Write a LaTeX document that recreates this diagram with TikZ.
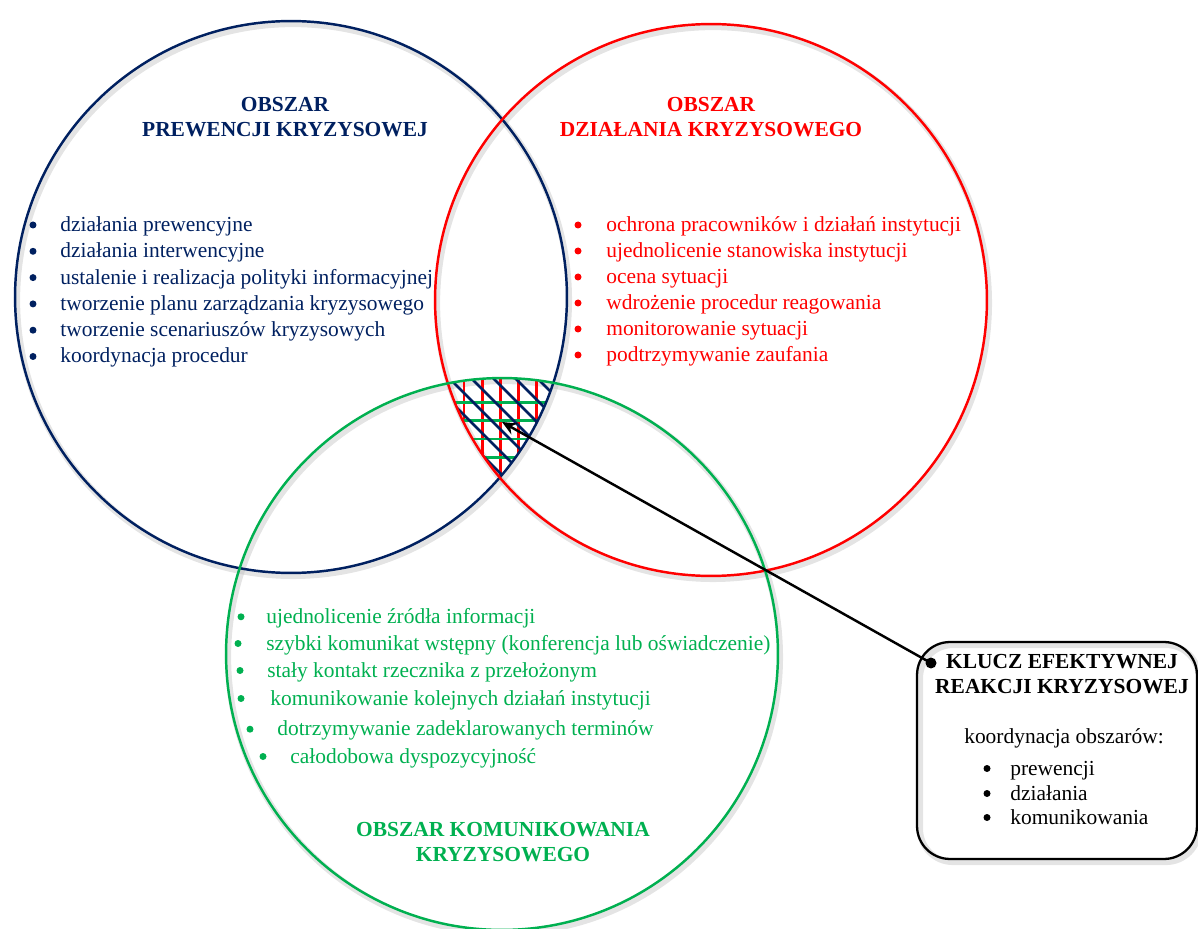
\documentclass[tikz,border=0pt]{standalone}
\usepackage{fontspec}
\setmainfont{Liberation Serif}
\usetikzlibrary{arrows.meta}
\definecolor{cblue}{HTML}{002060}
\definecolor{cred}{HTML}{FF0000}
\definecolor{cgreen}{HTML}{00B050}
\begin{document}
\begin{tikzpicture}[x=0.02cm, y=-0.02cm,
  ring/.style={circle, draw, line width=1.4pt, minimum size=11.04cm, inner sep=0pt},
  ringshadow/.style={draw=black!30, line width=3.5pt, opacity=0.35},
  txt/.style={inner sep=0pt, font=\fontsize{12.2pt}{15pt}\selectfont},
  head/.style={txt, font=\fontsize{12.2pt}{15pt}\selectfont\bfseries, anchor=base},
  item/.style={txt, anchor=base west},
  bul/.style={circle, fill, minimum size=0.14cm, inner sep=0pt},
  hatchline/.style={line width=1.5pt},
  keybox/.style={draw, line width=1.3pt, rounded corners=0.66cm, minimum width=5.6cm, minimum height=4.34cm, inner sep=0pt},
  link/.style={line width=1.4pt, -{Stealth[length=8pt, width=7pt]}}
]
\useasboundingbox (0,0) rectangle (1198,929);

% soft shadows
\foreach \cx/\cy in {291/297, 711/300, 502/654}
  \draw[ringshadow] (\cx+2,\cy+3) circle[radius=5.52cm];
\draw[ringshadow, rounded corners=0.66cm] (920,645) rectangle (1199,862);

% hatched common area
\begin{scope}
  \clip (291,297) circle[radius=5.52cm];
  \clip (711,300) circle[radius=5.52cm];
  \clip (502,654) circle[radius=5.52cm];
  \foreach \x in {464,482.2,500.4,518.6,536.8,555}
    \draw[cred, hatchline] (\x,360) -- (\x,500);
  \foreach \y in {402.3,420.6,438.9,457.2}
    \draw[cgreen, hatchline] (430,\y) -- (570,\y);
  \foreach \c in {-159,-137,-115,-93,-71,-49,-27,-5,17}
    \draw[cblue, hatchline] (430,430+\c) -- (570,570+\c);
\end{scope}

% circles
\node[ring, draw=cblue] (prev) at (291,297) {};
\node[ring, draw=cred] (dzial) at (711,300) {};
\node[ring, draw=cgreen] (kom) at (502,654) {};

% headings
\node[head, text=cblue] (hp1) at (285,111.5) {OBSZAR};
\node[head, text=cblue] (hp2) at (285,136.5) {PREWENCJI KRYZYSOWEJ};
\node[head, text=cred] (hd1) at (711,111.5) {OBSZAR};
\node[head, text=cred] (hd2) at (711,136.5) {DZIAŁANIA KRYZYSOWEGO};
\node[head, text=cgreen] (hk1) at (503,836.7) {OBSZAR KOMUNIKOWANIA};
\node[head, text=cgreen] (hk2) at (503,861.7) {KRYZYSOWEGO};

% blue list
\foreach \t [count=\i] in {działania prewencyjne, działania interwencyjne,
  ustalenie i realizacja polityki informacyjnej, tworzenie planu zarządzania kryzysowego,
  tworzenie scenariuszów kryzysowych, koordynacja procedur} {
  \node[bul, fill=cblue] (pb\i) at (33,225+26.3*\i-26.3) {};
  \node[item, text=cblue] (pt\i) at (60,231.5+26.3*\i-26.3) {\t};
}

% red list
\foreach \t [count=\i] in {ochrona pracowników i działań instytucji, ujednolicenie stanowiska instytucji,
  ocena sytuacji, wdrożenie procedur reagowania, monitorowanie sytuacji, podtrzymywanie zaufania} {
  \node[bul, fill=cred] (db\i) at (578,225+26*\i-26) {};
  \node[item, text=cred] (dt\i) at (606,231.5+26*\i-26) {\t};
}

% green list
\foreach \bx/\tx/\by/\t [count=\i] in {
  241/266/623.3/ujednolicenie źródła informacji,
  238/266/650/szybki komunikat wstępny (konferencja lub oświadczenie),
  240/267/677/stały kontakt rzecznika z przełożonym,
  241/270/705/komunikowanie kolejnych działań instytucji,
  250/277/735.7/dotrzymywanie zadeklarowanych terminów,
  263/290/763/całodobowa dyspozycyjność} {
  \node[bul, fill=cgreen] (kb\i) at (\bx,\by-6.5) {};
  \node[item, text=cgreen] (kt\i) at (\tx,\by) {\t};
}

% key box
\node[keybox] (key) at (1057,750.5) {};
\node[head] (k1) at (1062,668) {KLUCZ EFEKTYWNEJ};
\node[head] (k2) at (1062,693) {REAKCJI KRYZYSOWEJ};
\node[txt, anchor=base] (k3) at (1064,743) {koordynacja obszarów:};
\foreach \t/\by [count=\i] in {prewencji/775, działania/800, komunikowania/824} {
  \node[bul, fill=black] (qb\i) at (987,\by-6.5) {};
  \node[item] (qt\i) at (1010,\by) {\t};
}

% connector
\node[circle, fill, minimum size=0.22cm, inner sep=0pt] (kdot) at (931,663) {};
\coordinate (core) at (502,422);
\draw[link] (kdot.center) -- (core);
\end{tikzpicture}
\end{document}
